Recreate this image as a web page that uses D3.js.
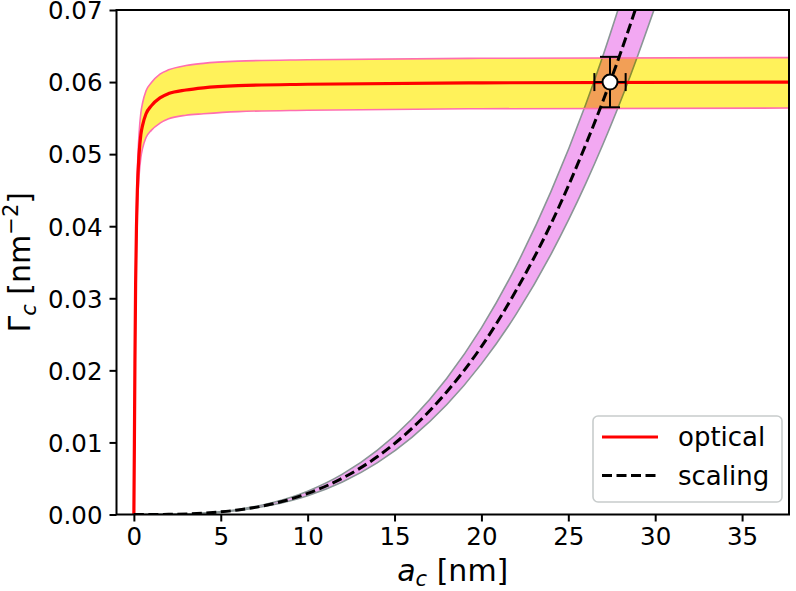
<!DOCTYPE html>
<html>
<head>
<meta charset="utf-8">
<script src="https://cdn.jsdelivr.net/npm/d3@7"></script>
<style>
  body { margin: 0; background: #fff; }
  svg { display: block; font-family: "DejaVu Sans", sans-serif; }
</style>
</head>
<body>
<div id="canvas"></div>
<script>
"use strict"

/*** DATA ***/
// optical curve: a_c [nm] vs Gamma_c [nm^-2], with its band
let opticalA    = [0, 0.03, 0.06, 0.1, 0.15, 0.2, 0.3, 0.4, 0.5, 0.7, 1, 1.5, 2, 3, 4, 6, 10, 20, 38]
let opticalMid  = [0, 0.010, 0.021, 0.032, 0.040, 0.045, 0.0500, 0.0527, 0.0540, 0.0556, 0.0567, 0.0578, 0.0584, 0.0589, 0.0592, 0.0595, 0.0597, 0.0599, 0.0600]
let opticalHigh = [0, 0.0106, 0.0222, 0.0338, 0.0423, 0.0476, 0.0529, 0.0557, 0.0571, 0.0588, 0.0599, 0.0611, 0.0617, 0.0623, 0.0626, 0.0629, 0.0631, 0.0633, 0.0634]
let opticalLow  = [0, 0.0094, 0.0197, 0.0301, 0.0376, 0.0423, 0.0470, 0.0495, 0.0508, 0.0523, 0.0533, 0.0543, 0.0549, 0.0554, 0.0556, 0.0559, 0.0561, 0.0563, 0.0564]

// scaling curve with its band
let scalingA    = [0, 2, 4, 6, 8, 10, 12, 14, 16, 18, 20, 22, 24, 26, 27, 28, 29, 30]
let scalingMid  = [0, 0.000023, 0.00019, 0.00063, 0.00149, 0.00292, 0.00504, 0.0080, 0.01195, 0.0170, 0.0233, 0.0311, 0.0403, 0.0513, 0.0574, 0.0640, 0.0711, 0.0788]
let scalingHigh = [0, 0.000026, 0.00021, 0.00070, 0.00166, 0.00324, 0.0056, 0.0089, 0.01326, 0.01888, 0.0259, 0.0345, 0.0448, 0.0569, 0.0637, 0.0711, 0.0790, 0.0874]
let scalingLow  = [0, 0.000021, 0.00017, 0.00056, 0.00134, 0.00261, 0.00451, 0.00716, 0.0107, 0.01522, 0.0209, 0.0278, 0.0361, 0.0459, 0.0514, 0.0573, 0.0637, 0.0705]

// crossing point with error bars
let pointA = 27.4
let pointG = 0.060
let pointErrA = 0.9
let pointErrG = 0.0035

let xTicks = [0, 5, 10, 15, 20, 25, 30, 35]
let yTicks = [0, 0.01, 0.02, 0.03, 0.04, 0.05, 0.06, 0.07]
let legendLabels = ["optical", "scaling"]

/*** CANVAS SETUP ***/
let svgWidth = 796
let svgHeight = 591
let plot = { left: 116.5, right: 789, top: 10, bottom: 514.5 }

let svg = d3.select("#canvas")
    .append("svg")
    .attr("width", svgWidth)
    .attr("height", svgHeight)

let xScale = d3.scaleLinear().domain([-1.0, 37.7]).range([plot.left, plot.right])
let yScale = d3.scaleLinear().domain([0, 0.07]).range([plot.bottom, plot.top])

svg.append("clipPath").attr("id", "clip")
    .append("rect")
    .attr("x", plot.left).attr("y", plot.top)
    .attr("width", plot.right - plot.left)
    .attr("height", plot.bottom - plot.top)

let body = svg.append("g").attr("clip-path", "url(#clip)")

/* helpers to zip arrays into points */
function zip3(xs, lo, hi) {
    return xs.map(function (x, i) { return { x: x, lo: lo[i], hi: hi[i] } })
}
function zip2(xs, ys) {
    return xs.map(function (x, i) { return { x: x, y: ys[i] } })
}

let area = d3.area()
    .x(function (d) { return xScale(d.x) })
    .y0(function (d) { return yScale(d.lo) })
    .y1(function (d) { return yScale(d.hi) })
    .curve(d3.curveMonotoneX)

let line = d3.line()
    .x(function (d) { return xScale(d.x) })
    .y(function (d) { return yScale(d.y) })
    .curve(d3.curveMonotoneX)

/* scaling band (pink) */
body.append("path")
    .datum(zip3(scalingA, scalingLow, scalingHigh))
    .attr("d", area)
    .attr("fill", "#f2a8f2")

;[scalingLow, scalingHigh].forEach(function (edge) {
    body.append("path")
        .datum(zip2(scalingA, edge))
        .attr("d", line)
        .attr("fill", "none")
        .attr("stroke", "#8a9696")
        .attr("stroke-width", 1.6)
})

/* optical band (yellow), multiplied over pink -> orange overlap */
body.append("path")
    .datum(zip3(opticalA, opticalLow, opticalHigh))
    .attr("d", area)
    .attr("fill", "#fff25a")
    .style("mix-blend-mode", "multiply")

;[opticalLow, opticalHigh].forEach(function (edge) {
    body.append("path")
        .datum(zip2(opticalA, edge))
        .attr("d", line)
        .attr("fill", "none")
        .attr("stroke", "#ff6eb0")
        .attr("stroke-width", 1.6)
})

/* optical mean line */
body.append("path")
    .datum(zip2(opticalA, opticalMid))
    .attr("d", line)
    .attr("fill", "none")
    .attr("stroke", "#ff0000")
    .attr("stroke-width", 3.2)

/* scaling mean line */
body.append("path")
    .datum(zip2(scalingA, scalingMid))
    .attr("d", line)
    .attr("fill", "none")
    .attr("stroke", "#000")
    .attr("stroke-width", 3)
    .attr("stroke-dasharray", "10,4.5")

/* error bars */
let eb = body.append("g").attr("stroke", "#000").attr("stroke-width", 2)
let px = xScale(pointA), py = yScale(pointG)
eb.append("line")
    .attr("x1", xScale(pointA - pointErrA)).attr("x2", xScale(pointA + pointErrA))
    .attr("y1", py).attr("y2", py)
eb.append("line")
    .attr("x1", px).attr("x2", px)
    .attr("y1", yScale(pointG - pointErrG)).attr("y2", yScale(pointG + pointErrG))
;[pointA - pointErrA, pointA + pointErrA].forEach(function (a) {
    eb.append("line")
        .attr("x1", xScale(a)).attr("x2", xScale(a))
        .attr("y1", py - 9).attr("y2", py + 9)
})
;[pointG - pointErrG, pointG + pointErrG].forEach(function (g) {
    eb.append("line")
        .attr("x1", px - 10).attr("x2", px + 10)
        .attr("y1", yScale(g)).attr("y2", yScale(g))
})
body.append("circle")
    .attr("cx", px).attr("cy", py).attr("r", 7.5)
    .attr("fill", "#fff").attr("stroke", "#000").attr("stroke-width", 2)

/*** AXES ***/
let xAxis = d3.axisBottom(xScale).tickValues(xTicks).tickSize(7).tickPadding(6)
let yAxis = d3.axisLeft(yScale).tickValues(yTicks).tickFormat(d3.format(".2f")).tickSize(7).tickPadding(7)

let gx = svg.append("g").attr("transform", "translate(0," + plot.bottom + ")").call(xAxis)
let gy = svg.append("g").attr("transform", "translate(" + plot.left + ",0)").call(yAxis)

;[gx, gy].forEach(function (g) {
    g.select(".domain").remove()
    g.selectAll(".tick line").attr("stroke", "#000").attr("stroke-width", 2)
    g.selectAll(".tick text").attr("fill", "#000")
        .attr("font-family", "DejaVu Sans").attr("font-size", "24.5px")
})
gy.selectAll(".tick text").attr("dy", "0.36em")

/* frame */
svg.append("rect")
    .attr("x", plot.left).attr("y", plot.top)
    .attr("width", plot.right - plot.left)
    .attr("height", plot.bottom - plot.top)
    .attr("fill", "none").attr("stroke", "#000").attr("stroke-width", 2)

/*** AXIS LABELS ***/
let xLabel = svg.append("text")
    .attr("x", (plot.left + plot.right) / 2)
    .attr("y", 581)
    .attr("text-anchor", "middle")
    .attr("font-size", "30px")
xLabel.append("tspan").attr("font-style", "italic").text("a")
xLabel.append("tspan").attr("font-style", "italic").attr("font-size", "21px").attr("dy", 5).text("c")
xLabel.append("tspan").attr("dy", -5).text(" [nm]")

let yLabel = svg.append("text")
    .attr("transform", "translate(30," + ((plot.top + plot.bottom) / 2) + ") rotate(-90)")
    .attr("text-anchor", "middle")
    .attr("font-size", "30px")
yLabel.append("tspan").text("Γ")
yLabel.append("tspan").attr("font-style", "italic").attr("font-size", "21px").attr("dy", 6).text("c")
yLabel.append("tspan").attr("dy", -6).text(" [nm")
yLabel.append("tspan").attr("font-size", "21px").attr("dy", -12).text("−2")
yLabel.append("tspan").attr("dy", 12).text("]")

/*** LEGEND ***/
let legend = svg.append("g")
legend.append("rect")
    .attr("x", 593).attr("y", 416)
    .attr("width", 189).attr("height", 86)
    .attr("rx", 5)
    .attr("fill", "#fff").attr("fill-opacity", 0.85)
    .attr("stroke", "#c8cccc").attr("stroke-width", 1.6)

legendLabels.forEach(function (label, i) {
    let ly = 437 + i * 38.5
    legend.append("line")
        .attr("x1", 602).attr("x2", 658)
        .attr("y1", ly).attr("y2", ly)
        .attr("stroke", i === 0 ? "#ff0000" : "#000")
        .attr("stroke-width", i === 0 ? 3.2 : 3)
        .attr("stroke-dasharray", i === 0 ? null : "10,4.5")
    legend.append("text")
        .attr("x", 678).attr("y", ly + 9)
        .attr("font-size", "26px")
        .text(label)
})
</script>
</body>
</html>
